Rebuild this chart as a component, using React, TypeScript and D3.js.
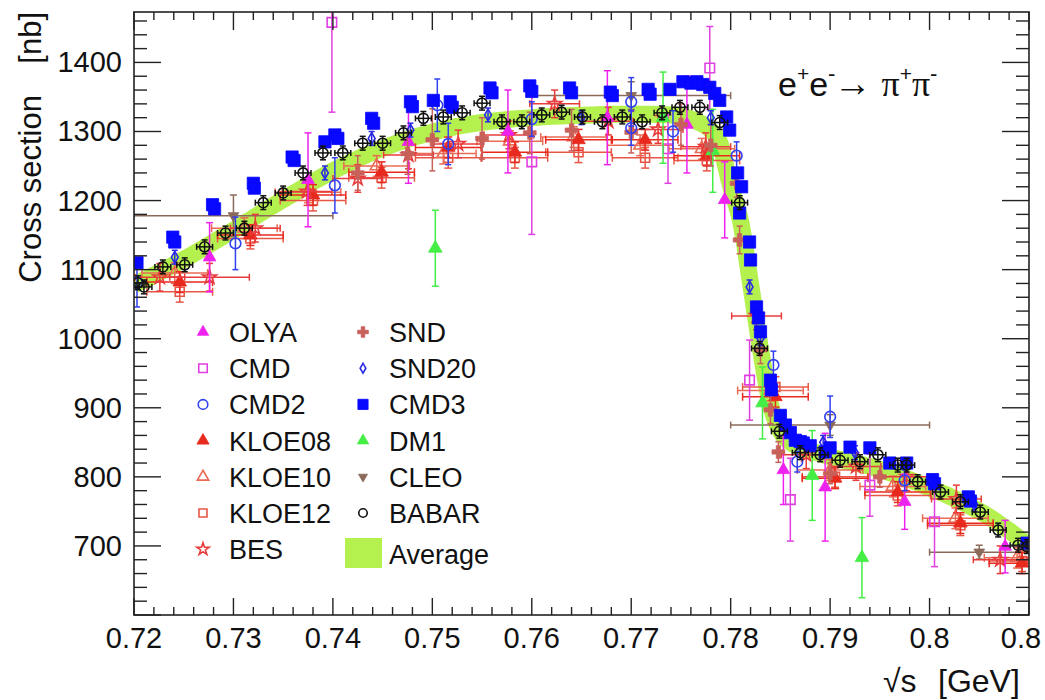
import React from 'react';
import * as d3 from 'd3';

// ---------- axes ----------
const X_DOMAIN = [0.72, 0.81];
const Y_DOMAIN = [600, 1473];
const X_TICKS = [0.72, 0.73, 0.74, 0.75, 0.76, 0.77, 0.78, 0.79, 0.8, 0.81];
const X_TICK_LABELS = ['0.72', '0.73', '0.74', '0.75', '0.76', '0.77', '0.78', '0.79', '0.8', '0.8'];
const Y_TICKS = [700, 800, 900, 1000, 1100, 1200, 1300, 1400];
const Y_TICK_LABELS = ['700', '800', '900', '1000', '1100', '1200', '1300', '1400'];

// ---------- average band (centre line) ----------
const AVERAGE: [number, number][] = [
  [0.720, 1078], [0.722, 1092], [0.724, 1107], [0.726, 1123], [0.728, 1140], [0.730, 1157],
  [0.732, 1175], [0.734, 1193], [0.736, 1210], [0.738, 1227], [0.740, 1243], [0.742, 1257],
  [0.744, 1270], [0.746, 1281], [0.748, 1291], [0.750, 1299], [0.752, 1306], [0.754, 1311],
  [0.756, 1315], [0.758, 1318], [0.760, 1320], [0.762, 1322], [0.764, 1323], [0.766, 1324],
  [0.768, 1325], [0.770, 1325], [0.772, 1325], [0.774, 1324], [0.775, 1322], [0.776, 1318],
  [0.777, 1312], [0.778, 1302], [0.779, 1280], [0.7795, 1250], [0.780, 1220], [0.781, 1170],
  [0.782, 1080], [0.783, 985], [0.784, 905], [0.785, 866], [0.786, 850], [0.788, 838],
  [0.790, 829], [0.792, 822], [0.794, 815], [0.796, 806], [0.798, 796], [0.800, 784],
  [0.802, 772], [0.804, 758], [0.806, 742], [0.808, 722], [0.810, 700],
];

// ---------- experiments: [sqrt(s), sigma, xerr, yerr] ----------
type P = [number, number, number, number];

const BABAR: P[] = [
  [0.7204, 1081, 0.0008, 10], [0.7210, 1075, 0.0008, 10], [0.7229, 1104, 0.0008, 10], [0.7251, 1107, 0.0008, 10],
  [0.7271, 1133, 0.0008, 10], [0.7292, 1153, 0.0008, 10], [0.7311, 1160, 0.0008, 10], [0.7330, 1197, 0.0008, 10],
  [0.7350, 1211, 0.0008, 10], [0.7370, 1240, 0.0008, 10], [0.7390, 1269, 0.0008, 10], [0.7410, 1269, 0.0008, 10],
  [0.7430, 1283, 0.0008, 10], [0.7450, 1283, 0.0008, 10], [0.7471, 1298, 0.0008, 10], [0.7491, 1319, 0.0008, 10],
  [0.7511, 1321, 0.0008, 10], [0.7530, 1327, 0.0008, 10], [0.7550, 1341, 0.0008, 10], [0.7570, 1314, 0.0008, 10],
  [0.7590, 1314, 0.0008, 10], [0.7610, 1324, 0.0008, 10], [0.7630, 1328, 0.0008, 10], [0.7651, 1321, 0.0008, 10],
  [0.7671, 1314, 0.0008, 10], [0.7691, 1321, 0.0008, 10], [0.7711, 1314, 0.0008, 10], [0.7731, 1327, 0.0008, 10],
  [0.7749, 1335, 0.0008, 10], [0.7769, 1335, 0.0008, 10], [0.7789, 1313, 0.0008, 10], [0.7809, 1197, 0.0008, 10],
  [0.7829, 986, 0.0008, 10], [0.7849, 866, 0.0008, 10], [0.7870, 835, 0.0008, 10], [0.7890, 832, 0.0008, 10],
  [0.7910, 824, 0.0008, 10], [0.7930, 822, 0.0008, 10], [0.7948, 832, 0.0008, 10], [0.7968, 817, 0.0008, 10],
  [0.7977, 817, 0.0008, 10], [0.7988, 793, 0.0008, 10], [0.8011, 778, 0.0008, 10], [0.8031, 764, 0.0008, 10],
  [0.8051, 749, 0.0008, 10], [0.8069, 723, 0.0008, 10], [0.8089, 701, 0.0008, 10], [0.8098, 699, 0.0008, 10],
];

const CMD3: P[] = [
  [0.7203, 1110, 0, 6], [0.7239, 1147, 0, 6], [0.7241, 1140, 0, 6], [0.7279, 1194, 0, 6], [0.7281, 1188, 0, 6],
  [0.7320, 1225, 0, 6], [0.7321, 1218, 0, 6], [0.7359, 1263, 0, 6], [0.7361, 1258, 0, 6], [0.7392, 1285, 0, 6],
  [0.7402, 1295, 0, 6], [0.7405, 1290, 0, 6], [0.7439, 1319, 0, 6], [0.7441, 1312, 0, 6], [0.7478, 1343, 0, 6],
  [0.7480, 1336, 0, 6], [0.7501, 1345, 0, 6], [0.7518, 1343, 0, 6], [0.7520, 1335, 0, 6], [0.7558, 1363, 0, 6],
  [0.7560, 1356, 0, 6], [0.7598, 1366, 0, 6], [0.7600, 1358, 0, 6], [0.7638, 1363, 0, 6], [0.7640, 1356, 0, 6],
  [0.7679, 1357, 0, 6], [0.7681, 1352, 0, 6], [0.7717, 1361, 0, 6], [0.7719, 1354, 0, 6], [0.7739, 1361, 0, 6],
  [0.7752, 1372, 0, 6], [0.7760, 1370, 0, 6], [0.7766, 1372, 0, 6], [0.7772, 1368, 0, 6], [0.7779, 1364, 0, 6],
  [0.7784, 1355, 0, 6], [0.7789, 1345, 0, 6], [0.7796, 1321, 0, 6], [0.7799, 1302, 0, 6], [0.7807, 1240, 0, 6],
  [0.7811, 1220, 0, 6], [0.7809, 1182, 0, 6], [0.7819, 1140, 0, 6], [0.7820, 1114, 0, 6], [0.7826, 1046, 0, 6],
  [0.7828, 1030, 0, 6], [0.7830, 1010, 0, 6], [0.7840, 940, 0, 6], [0.7841, 926, 0, 6], [0.7850, 889, 0, 6],
  [0.7855, 875, 0, 6], [0.7860, 864, 0, 6], [0.7865, 853, 0, 6], [0.7870, 851, 0, 6], [0.7873, 849, 0, 6],
  [0.7880, 845, 0, 6], [0.7895, 836, 0, 6], [0.7900, 842, 0, 6], [0.7920, 843, 0, 6], [0.7940, 842, 0, 6],
  [0.7960, 820, 0, 6], [0.7977, 820, 0, 6], [0.8003, 796, 0, 6], [0.8005, 790, 0, 6], [0.8039, 771, 0, 6],
  [0.8041, 765, 0, 6], [0.8098, 704, 0, 6],
];

const CMD2: P[] = [
  [0.7203, 1081, 0, 35], [0.7302, 1138, 0, 38], [0.7402, 1222, 0, 40], [0.7505, 1338, 0, 38],
  [0.7516, 1282, 0, 30], [0.7600, 1318, 0, 25], [0.7700, 1343, 0, 35], [0.7700, 1305, 0, 25],
  [0.7742, 1300, 0, 30], [0.7806, 1265, 0, 20], [0.7843, 962, 0, 20], [0.7867, 822, 0, 15],
  [0.7900, 887, 0, 30], [0.7975, 795, 0, 15],
];

const SND20: P[] = [
  [0.7241, 1118, 0, 10], [0.7392, 1240, 0, 10], [0.7439, 1290, 0, 10], [0.7478, 1302, 0, 10],
  [0.7556, 1324, 0, 10], [0.7650, 1320, 0, 10], [0.7780, 1320, 0, 10], [0.7819, 1075, 0, 10],
  [0.7830, 1000, 0, 10], [0.7893, 850, 0, 10], [0.7925, 835, 0, 10], [0.8003, 792, 0, 10],
  [0.8045, 760, 0, 10],
];

const KLOE08: P[] = [
  [0.7246, 1082, 0.0033, 15], [0.7317, 1150, 0.0033, 15], [0.7380, 1208, 0.0033, 15], [0.7449, 1241, 0.0033, 15],
  [0.7516, 1277, 0.0033, 15], [0.7583, 1270, 0.0033, 15], [0.7647, 1288, 0.0033, 15], [0.7714, 1288, 0.0033, 15],
  [0.7776, 1265, 0.0033, 15], [0.7845, 916, 0.0033, 15], [0.7905, 798, 0.0033, 15], [0.7968, 778, 0.0033, 15],
  [0.8031, 733, 0.0033, 15], [0.8093, 675, 0.0033, 15],
];

const KLOE10: P[] = [
  [0.7241, 1095, 0.0033, 15], [0.7311, 1160, 0.0033, 15], [0.7375, 1212, 0.0033, 15], [0.7444, 1250, 0.0033, 15],
  [0.7511, 1268, 0.0033, 15], [0.7578, 1286, 0.0033, 15], [0.7642, 1292, 0.0033, 15], [0.7709, 1280, 0.0033, 15],
  [0.7771, 1275, 0.0033, 15], [0.7840, 925, 0.0033, 15], [0.7900, 810, 0.0033, 15], [0.7963, 786, 0.0033, 15],
  [0.8026, 740, 0.0033, 15], [0.8088, 683, 0.0033, 15],
];

const KLOE12: P[] = [
  [0.7246, 1068, 0.0033, 15], [0.7317, 1145, 0.0033, 15], [0.7380, 1200, 0.0033, 15], [0.7449, 1233, 0.0033, 15],
  [0.7516, 1262, 0.0033, 15], [0.7583, 1262, 0.0033, 15], [0.7647, 1270, 0.0033, 15], [0.7714, 1262, 0.0033, 15],
  [0.7776, 1258, 0.0033, 15], [0.7845, 930, 0.0033, 15], [0.7905, 800, 0.0033, 15], [0.7968, 773, 0.0033, 15],
  [0.8031, 730, 0.0033, 15], [0.8093, 678, 0.0033, 15],
];

const BES: P[] = [
  [0.7226, 1089, 0.0025, 20], [0.7276, 1089, 0.0040, 20], [0.7322, 1160, 0.0025, 20], [0.7374, 1213, 0.0025, 20],
  [0.7425, 1232, 0.0025, 20], [0.7476, 1266, 0.0025, 20], [0.7526, 1282, 0.0025, 20], [0.7577, 1295, 0.0025, 20],
  [0.7623, 1340, 0.0025, 20], [0.7677, 1315, 0.0025, 20], [0.7727, 1303, 0.0025, 20], [0.7775, 1278, 0.0025, 20],
  [0.7826, 1033, 0.0025, 20], [0.7876, 832, 0.0025, 20], [0.7926, 815, 0.0025, 20], [0.7977, 800, 0.0025, 20],
  [0.8027, 768, 0.0025, 20], [0.8071, 680, 0.0027, 20],
];

const OLYA: P[] = [
  [0.7276, 1118, 0, 50], [0.7375, 1230, 0, 68], [0.7476, 1285, 0, 60], [0.7576, 1300, 0, 60],
  [0.7676, 1320, 0, 68], [0.7756, 1310, 0, 70], [0.7794, 1201, 0, 55], [0.7853, 810, 0, 50],
  [0.7895, 785, 0, 78], [0.7975, 764, 0, 40], [0.8076, 699, 0, 38],
];

const CMD: P[] = [
  [0.7399, 1458, 0, 130], [0.7600, 1256, 0, 105], [0.7737, 1275, 0, 50], [0.7779, 1392, 0, 60],
  [0.7819, 940, 0, 58], [0.7860, 767, 0, 60], [0.7940, 788, 0, 45], [0.8005, 735, 0, 65],
];

const DM1: P[] = [
  [0.7503, 1131, 0, 55], [0.7732, 1320, 0, 66], [0.7782, 1272, 0, 60], [0.7832, 907, 0, 52],
  [0.7882, 802, 0, 65], [0.7932, 683, 0, 58],
];

const SND: P[] = [
  [0.7425, 1240, 0, 25], [0.7475, 1268, 0, 30], [0.7500, 1288, 0, 45], [0.7550, 1290, 0, 30],
  [0.7598, 1298, 0, 30], [0.7640, 1302, 0, 30], [0.7700, 1299, 0, 30], [0.7750, 1310, 0, 30],
  [0.7780, 1280, 0, 30], [0.7806, 1225, 0, 20], [0.7809, 1143, 0, 20], [0.7830, 984, 0, 20],
  [0.7840, 897, 0, 20], [0.7848, 836, 0, 15], [0.7900, 805, 0, 15], [0.7950, 800, 0, 15],
];

const CLEO: P[] = [
  [0.730, 1178, 0.010, 30], [0.770, 1352, 0.010, 20], [0.790, 875, 0.010, 15], [0.805, 691, 0.005, 10],
];

const LEGEND_COL1 = ['OLYA', 'CMD', 'CMD2', 'KLOE08', 'KLOE10', 'KLOE12', 'BES'];
const LEGEND_COL2 = ['SND', 'SND20', 'CMD3', 'DM1', 'CLEO', 'BABAR'];

type Kind = 'tri' | 'otri' | 'osq' | 'sq' | 'ocirc' | 'odiam' | 'ostar' | 'cross' | 'dtri';
interface Style { color: string; kind: Kind; size: number; cap: number }

const STYLES: Record<string, Style> = {
  OLYA: { color: '#ee22ee', kind: 'tri', size: 70, cap: 7 },
  CMD: { color: '#e040e0', kind: 'osq', size: 90, cap: 7 },
  CMD2: { color: '#3040f0', kind: 'ocirc', size: 90, cap: 6 },
  KLOE08: { color: '#e82a1e', kind: 'tri', size: 80, cap: 8 },
  KLOE10: { color: '#ea6a54', kind: 'otri', size: 70, cap: 8 },
  KLOE12: { color: '#e85646', kind: 'osq', size: 80, cap: 8 },
  BES: { color: '#e83c3c', kind: 'ostar', size: 60, cap: 7 },
  SND: { color: '#c8605a', kind: 'cross', size: 90, cap: 6 },
  SND20: { color: '#2a2ae6', kind: 'odiam', size: 40, cap: 6 },
  CMD3: { color: '#0808ff', kind: 'sq', size: 150, cap: 6 },
  DM1: { color: '#44ee44', kind: 'tri', size: 80, cap: 7 },
  CLEO: { color: '#8b6a5a', kind: 'dtri', size: 50, cap: 7 },
  BABAR: { color: '#111111', kind: 'ocirc', size: 80, cap: 6 },
};

const DATA: Record<string, P[]> = {
  CLEO, KLOE12, KLOE10, KLOE08, BES, OLYA, CMD, DM1, SND, CMD2, SND20, CMD3, BABAR,
};
const DRAW_ORDER = ['CLEO', 'KLOE12', 'KLOE10', 'KLOE08', 'BES', 'OLYA', 'CMD', 'DM1', 'SND', 'CMD2', 'SND20', 'CMD3', 'BABAR'];

const FONT = 'Liberation Sans, Arial, Helvetica, sans-serif';
const SERIF = 'Liberation Serif, DejaVu Serif, serif';

function symbolPath(kind: Kind, size: number): string {
  const map: Record<Kind, d3.SymbolType> = {
    tri: d3.symbolTriangle, otri: d3.symbolTriangle, dtri: d3.symbolTriangle,
    sq: d3.symbolSquare, osq: d3.symbolSquare, ocirc: d3.symbolCircle,
    odiam: d3.symbolDiamond, ostar: d3.symbolStar, cross: d3.symbolCross,
  };
  return d3.symbol().type(map[kind]).size(size)() || '';
}

function Marker({ cx, cy, st, scale = 1 }: { cx: number; cy: number; st: Style; scale?: number }) {
  const filled = st.kind === 'tri' || st.kind === 'sq' || st.kind === 'cross' || st.kind === 'dtri';
  const rot = st.kind === 'dtri' ? ' rotate(180)' : '';
  return (
    <path
      d={symbolPath(st.kind, st.size * scale)}
      transform={`translate(${cx},${cy})${rot}`}
      fill={filled ? st.color : 'none'}
      stroke={st.color}
      strokeWidth={filled ? 0.8 : 1.6}
    />
  );
}

export default function App() {
  const W = 1045, H = 700;
  const X0 = 134, X1 = 1029, Y0 = 12, Y1 = 615;
  const x = d3.scaleLinear().domain(X_DOMAIN).range([X0, X1]);
  const y = d3.scaleLinear().domain(Y_DOMAIN).range([Y1, Y0]);

  const xMinor = d3.range(0, 46).map((i) => 0.72 + i * 0.002);
  const yMinor = d3.range(0, 44).map((i) => 600 + i * 20);

  const bandLine = d3.line<[number, number]>()
    .x((d) => x(d[0]))
    .y((d) => y(d[1]))
    .curve(d3.curveMonotoneX);

  const errBars = (name: string) => {
    const st = STYLES[name];
    return DATA[name].map((p, i) => {
      const [vx, vy, ex, ey] = p;
      const cx = x(vx), cy = y(vy);
      const parts: JSX.Element[] = [];
      const c = st.cap / 2;
      if (ex > 0) {
        const xa = x(vx - ex), xb = x(vx + ex);
        parts.push(<line key="h" x1={xa} x2={xb} y1={cy} y2={cy} />);
        parts.push(<line key="hc1" x1={xa} x2={xa} y1={cy - c} y2={cy + c} />);
        parts.push(<line key="hc2" x1={xb} x2={xb} y1={cy - c} y2={cy + c} />);
      }
      if (ey > 0) {
        const ya = y(vy - ey), yb = y(vy + ey);
        parts.push(<line key="v" x1={cx} x2={cx} y1={ya} y2={yb} />);
        parts.push(<line key="vc1" x1={cx - c} x2={cx + c} y1={ya} y2={ya} />);
        parts.push(<line key="vc2" x1={cx - c} x2={cx + c} y1={yb} y2={yb} />);
      }
      return <g key={i}>{parts}</g>;
    });
  };

  const legendRows1 = LEGEND_COL1.map((n, i) => ({ n, yy: 332 + i * 36.2 }));
  const legendRows2 = LEGEND_COL2.map((n, i) => ({ n, yy: 332 + i * 36.2 }));

  return (
    <svg width={W} height={H} style={{ position: 'absolute', left: 0, top: 0, background: '#fff' }}
      fontFamily={FONT}>
      <defs>
        <clipPath id="plotclip">
          <rect x={X0} y={Y0} width={X1 - X0} height={Y1 - Y0} />
        </clipPath>
      </defs>
      <rect x={0} y={0} width={W} height={H} fill="#fff" />

      <g clipPath="url(#plotclip)">
        <path d={bandLine(AVERAGE) || ''} fill="none" stroke="#b4f04e" strokeWidth={17}
          strokeLinejoin="round" strokeLinecap="butt" />
        {DRAW_ORDER.map((name) => (
          <g key={name}>
            <g stroke={STYLES[name].color} strokeWidth={1.5}>{errBars(name)}</g>
            {DATA[name].map((p, i) => (
              <Marker key={i} cx={x(p[0])} cy={y(p[1])} st={STYLES[name]} />
            ))}
          </g>
        ))}
      </g>

      {/* frame */}
      <rect x={X0} y={Y0} width={X1 - X0} height={Y1 - Y0} fill="none" stroke="#222" strokeWidth={1.6} />

      {/* ticks */}
      <g stroke="#222" strokeWidth={1.4}>
        {xMinor.map((v, i) => {
          const major = i % 5 === 0;
          const px = x(v);
          const lb = major ? 17 : 8;
          const lt = major ? 18 : 8;
          return (
            <g key={'xt' + i}>
              <line x1={px} x2={px} y1={Y1} y2={Y1 - lb} />
              <line x1={px} x2={px} y1={Y0} y2={Y0 + lt} />
            </g>
          );
        })}
        {yMinor.map((v, i) => {
          const major = v % 100 === 0;
          const py = y(v);
          const l = major ? 27 : 13;
          return (
            <g key={'yt' + i}>
              <line x1={X0} x2={X0 + l} y1={py} y2={py} />
              <line x1={X1} x2={X1 - l} y1={py} y2={py} />
            </g>
          );
        })}
      </g>

      {/* tick labels */}
      <g fontSize={29} fill="#111">
        {X_TICKS.map((v, i) => (
          <text key={'xl' + i} x={i === X_TICKS.length - 1 ? x(v) - 8 : x(v)} y={648}
            textAnchor="middle">{X_TICK_LABELS[i]}</text>
        ))}
        {Y_TICKS.map((v, i) => (
          <text key={'yl' + i} x={122} y={y(v) + 10} textAnchor="end">{Y_TICK_LABELS[i]}</text>
        ))}
      </g>

      {/* axis titles */}
      <g fill="#111" fontSize={31}>
        <text transform="translate(41,95) rotate(-90)" textAnchor="end">Cross section</text>
        <text transform="translate(41,12) rotate(-90)" textAnchor="end">[nb]</text>
        <text x={883} y={692} fontSize={32}>√s</text>
        <text x={938} y={692} fontSize={32}>[GeV]</text>
      </g>

      {/* reaction label */}
      <text x={778} y={96} fontSize={34} fill="#111">
        e<tspan dy={-15} fontSize={21}>+</tspan>
        <tspan dy={15}>e</tspan>
        <tspan dy={-15} fontSize={22}>-</tspan>
        <tspan dy={15} dx={-2} fontSize={38}>→</tspan>
        <tspan dx={10} fontFamily={SERIF} fontSize={36}>π</tspan>
        <tspan dy={-15} fontSize={21}>+</tspan>
        <tspan dy={15} fontFamily={SERIF} fontSize={36}>π</tspan>
        <tspan dy={-15} fontSize={22}>-</tspan>
      </text>

      {/* legend */}
      <g fontSize={27} fill="#111">
        {legendRows1.map(({ n, yy }) => (
          <g key={n}>
            <Marker cx={203} cy={yy} st={STYLES[n]} scale={0.8} />
            <text x={229} y={yy + 10}>{n}</text>
          </g>
        ))}
        {legendRows2.map(({ n, yy }) => (
          <g key={n}>
            <Marker cx={363} cy={yy} st={STYLES[n]} scale={0.7} />
            <text x={389} y={yy + 10}>{n}</text>
          </g>
        ))}
        <rect x={345} y={538} width={37} height={30} fill="#b4f04e" />
        <text x={389} y={564}>Average</text>
      </g>
    </svg>
  );
}
